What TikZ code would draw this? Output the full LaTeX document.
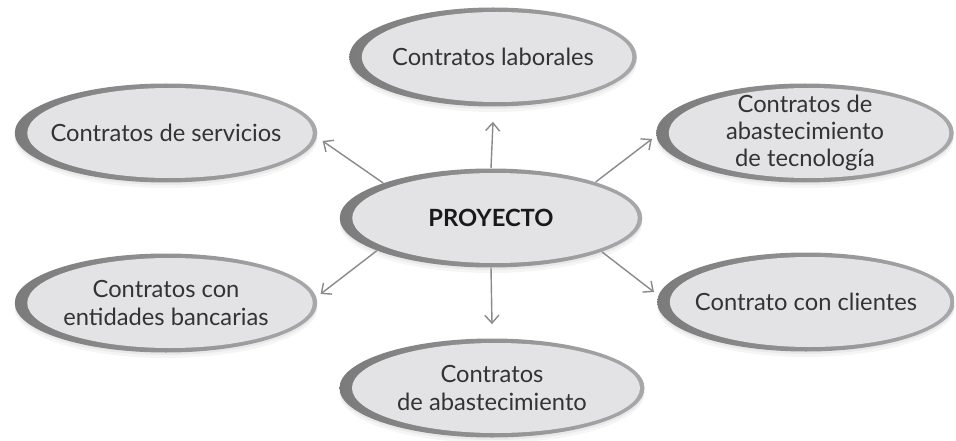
\documentclass[tikz,border=0pt]{standalone}
\usepackage{fontspec}
\setmainfont{Lato}
\usepackage{xcolor}
\usepackage{tikz}
\usetikzlibrary{arrows.meta,calc,shapes.geometric,shadows}
\definecolor{rimdark}{HTML}{7B7B7C}
\definecolor{rimlight}{HTML}{A8A8AA}
\definecolor{inner}{HTML}{E3E3E5}
\definecolor{arrowgray}{HTML}{8A8A8C}
\definecolor{txt}{HTML}{333333}

\begin{document}
\begin{tikzpicture}[
  contrato/.style={ellipse,inner sep=0pt,minimum width=6.05cm,minimum height=1.98cm,
    left color=rimdark,right color=rimlight,
    drop shadow={opacity=0.10,shadow xshift=0pt,shadow yshift=-0.05cm},
    drop shadow={opacity=0.08,shadow xshift=0pt,shadow yshift=-0.11cm},
    path picture={\fill[inner] let \p1=(path picture bounding box.north east),
      \p2=(path picture bounding box.south west) in
      ([xshift=0.08cm]path picture bounding box.center)
      ellipse ({(\x1-\x2)/2-0.17cm} and {(\y1-\y2)/2-0.09cm});}},
  lbl/.style={align=center,font=\fontsize{13.5}{15.6}\selectfont,text=txt},
  flecha/.style={draw=arrowgray,line width=0.8pt,-{Straight Barb[length=4.5pt,width=8pt]}}]
 \useasboundingbox (0,0) rectangle (19.12,8.8);
 % centre
 \node[contrato,label={[lbl,font=\fontsize{13.5}{15.6}\selectfont\bfseries,text=black!90]center:PROYECTO}] (pro) at (9.82,4.44) {};
 % around
 \node[contrato,minimum width=5.75cm,label={[lbl]center:Contratos laborales}] (lab) at (9.86,7.66) {};
 \node[contrato,label={[lbl]center:Contratos de servicios}] (serv) at (3.32,6.14) {};
 \node[contrato,minimum width=5.95cm,label={[lbl]center:Contratos de\\abastecimiento\\de tecnología}] (tec) at (16.1,6.14) {};
 \node[contrato,label={[lbl]center:Contratos con\\entidades bancarias}] (banc) at (3.32,2.74) {};
 \node[contrato,minimum width=5.95cm,label={[lbl]center:Contrato con clientes}] (cli) at (16.12,2.76) {};
 \node[contrato,minimum width=6.1cm,label={[lbl]center:Contratos\\de abastecimiento}] (aba) at (9.84,1.04) {};
 % arrows
 \draw[flecha] (pro.north) -- ([yshift=-0.3cm]lab.south);
 \draw[flecha] (pro.162) -- ([xshift=0.1cm,yshift=-0.16cm]serv.east);
 \draw[flecha] (pro.19) -- ([xshift=-0.08cm,yshift=-0.12cm]tec.west);
 \draw[flecha] (pro.196) -- ([xshift=0.06cm,yshift=0.18cm]banc.east);
 \draw[flecha] (pro.343) -- ([xshift=-0.06cm,yshift=0.2cm]cli.west);
 \draw[flecha] (pro.south) -- ([yshift=0.28cm]aba.north);
\end{tikzpicture}
\end{document}
